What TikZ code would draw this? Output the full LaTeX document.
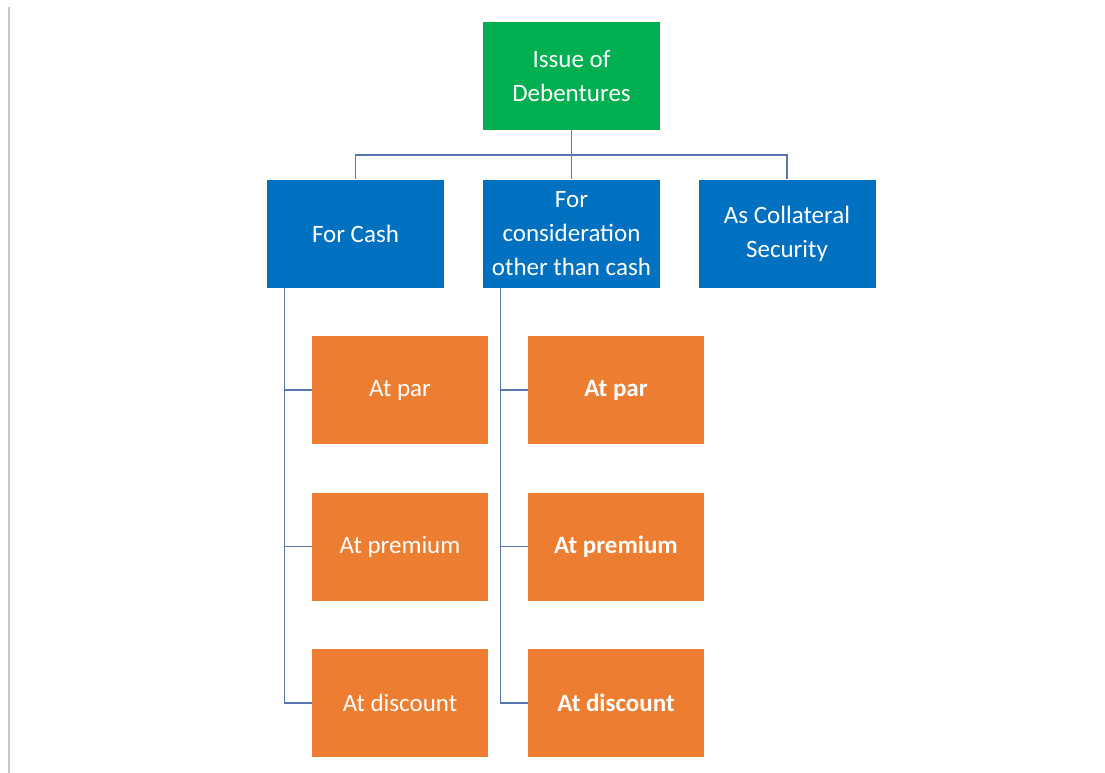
\documentclass[tikz,border=0pt]{standalone}
\usepackage{fontspec}
\setmainfont{Carlito}
\usetikzlibrary{positioning}

\definecolor{topgreen}{RGB}{0,176,80}
\definecolor{midblue}{RGB}{0,112,192}
\definecolor{leaforange}{RGB}{237,125,49}
\definecolor{linkblue}{RGB}{88,118,178}

\begin{document}
\begin{tikzpicture} [x = 1pt, y = -1pt, on grid,
    box/.style = {minimum width = 177pt, minimum height = 108pt, inner sep = 0pt,
                  align = center, text = white, font = \fontsize{25}{34}\selectfont},
    topbox/.style = {box, fill = topgreen},
    midbox/.style = {box, fill = midblue},
    leafbox/.style = {box, fill = leaforange, minimum width = 176pt},
    boldleaf/.style = {leafbox, font = \fontsize{25}{34}\selectfont\bfseries},
    link/.style = {draw = linkblue, line width = 1.5pt}]
    \useasboundingbox (0,0) rectangle (1105,773);
    \draw [black!22, line width = 2pt] (8.5,7) -- (8.5,773);

    \node (issue) [topbox] at (571.5,76) {Issue of\\Debentures};
    \node (cons) [midbox, below = 157.5pt of issue] {For\\consideration\\other than cash};
    \node (cash) [midbox, left = 216pt of cons] {For Cash};
    \node (coll) [midbox, right = 215.5pt of cons] {As Collateral\\Security};

    \node (cashpar) [leafbox, below right = 156.5pt and 44.5pt of cash] {At par};
    \node (cashprem) [leafbox, below = 156.5pt of cashpar] {At premium};
    \node (cashdisc) [leafbox, below = 156.5pt of cashprem] {At discount};

    \node (conspar) [boldleaf, below right = 156.5pt and 44.5pt of cons] {At par};
    \node (consprem) [boldleaf, below = 156.5pt of conspar] {At premium};
    \node (consdisc) [boldleaf, below = 156.5pt of consprem] {At discount};

    % tree lines
    \coordinate (bus) at ([yshift = -25pt] issue.south);
    \path [link] (issue) -- (cons);
    \path [link] (cash.north) |- (bus) -| (coll.north);

    \foreach \parent in {cash, cons} {
        \coordinate (\parent spine) at ([xshift = 17.5pt] \parent.south west);
        \path [link] (\parent spine) |- (\parent disc.west);
        \foreach \leaf in {par, prem}
            \path [link] (\parent spine |- \parent\leaf.west) -- (\parent\leaf.west);
    }
\end{tikzpicture}
\end{document}
